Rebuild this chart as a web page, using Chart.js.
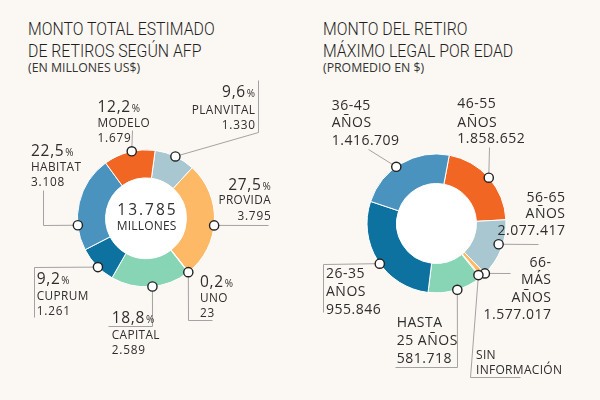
<!DOCTYPE html>
<html><head><meta charset="utf-8">
<script src="https://cdn.jsdelivr.net/npm/chart.js@4"></script>
<style>
html,body{margin:0;padding:0;background:#fbf7f2;}
#wrap{position:relative;width:600px;height:400px;overflow:hidden;background:#fbf7f2;}
canvas{position:absolute;left:0;top:0;}
.title{position:absolute;font-family:Roboto,sans-serif;font-weight:300;font-size:18px;line-height:21.5px;color:#1f1f1f;transform:scaleX(0.88);transform-origin:0 0;white-space:nowrap;top:18px;}
.sub{position:absolute;font-family:"Open Sans",sans-serif;font-size:12.3px;line-height:12px;color:#333;top:62px;white-space:nowrap;}
</style></head>
<body><div id="wrap">
<div class="title" style="left:28px">MONTO TOTAL ESTIMADO<br>DE RETIROS SEGÚN AFP</div>
<div class="sub" style="left:28px">(EN MILLONES US$)</div>
<div class="title" style="left:323px">MONTO DEL RETIRO<br>MÁXIMO LEGAL POR EDAD</div>
<div class="sub" style="left:323px">(PROMEDIO EN $)</div>
<canvas id="c1" width="600" height="400"></canvas>
<canvas id="c2" width="600" height="400"></canvas>
</div>
<script>
// ---------- DATA ----------
const afpNames   = ['PLANVITAL', 'PROVIDA', 'UNO', 'CAPITAL', 'CUPRUM', 'HABITAT', 'MODELO'];
const afpPercent = [9.6, 27.5, 0.2, 18.8, 9.2, 22.5, 12.2];
const afpAmount  = [1330, 3795, 23, 2589, 1261, 3108, 1679];

const ageGroups  = [['46-55', 'AÑOS'], ['56-65', 'AÑOS'], ['66-', 'MÁS', 'AÑOS'], ['SIN', 'INFORMACIÓN'],
                    ['HASTA', '25 AÑOS'], ['26-35', 'AÑOS'], ['36-45', 'AÑOS']];
const ageAverage = [1858652, 2077417, 1577017, null, 581718, 955846, 1416709];
const ageShare   = [21.2, 13.6, 1.1, 0.3, 12.8, 28.2, 22.8];   // slice sizes as drawn (%)

// ---------- STYLE / LAYOUT ----------
const afpColors = ['#a8c7d0', '#fdb966', '#f3d6a2', '#88d5b5', '#0e72a0', '#4b93bf', '#f26624'];
const ageColors = ['#f26624', '#a8c7d0', '#fdb966', '#fdb966', '#88d5b5', '#0e72a0', '#4b93bf'];
const TEXT = '#2e2e2e', LEAD = '#a3a3a3', FONT = '"Open Sans", sans-serif';

const afpLayout = [
  {frac: .51, align: 'right', x: 255,   y: [97, 114, 129],      path: [[258, 80], [258, 132], 'dot']},
  {frac: .54, align: 'right', x: 270.7, y: [190, 204, 220],     path: ['dot', [268, 'd']]},
  {frac: .5,  align: 'left',  x: 200,   y: [287, 302, 317],     path: ['dot', ['d', 320], [211.7, 320]]},
  {frac: .48, align: 'left',  x: 111.7, y: [323, 339, 354],     path: ['dot', ['d', 326], [108.3, 326]]},
  {frac: .45, align: 'left',  x: 36.7,  y: [284, 300, 315],     path: [[34.3, 316.7], [34.3, 'd'], 'dot']},
  {frac: .265,align: 'left',  x: 31,    y: [156, 170.7, 186],   path: [[43.3, 190], [43.3, 'd'], 'dot']},
  {frac: .55, align: 'left',  x: 97.5,  y: [111.7, 126.7, 141.7], path: [['d', 130], 'dot']}
];
const ageLayout = [
  {frac: .5,  align: 'left',  x: 457.3, y: [108, 126.7, 143],   path: [['d', 147], 'dot']},
  {frac: .44, rOff: -4, align: 'right', x: 565, y: [201.7, 218, 235], path: ['dot', [538, 'd']]},
  {frac: 0,   align: 'right', x: 551,   y: [267, 284.3, 301.7, 319.3], path: ['dot', [510, 'd']]},
  {frac: 1,   rOff: -3, small: true, align: 'left', x: 476, y: [359, 374], path: ['dot', [470, 377.3], [520, 377.3]]},
  {frac: .47, align: 'left',  x: 396.7, y: [327.3, 345, 362.7], path: ['dot', ['d', 366.7], [395, 366.7]]},
  {frac: .47, align: 'left',  x: 326,   y: [278.3, 296, 314],   path: ['dot', [322.7, 'd'], [322.7, 311.7]]},
  {frac: .44, align: 'left',  x: 331.7, y: [110, 126.7, 145],   path: [[368, 149], 'dot']}
];

// ---------- HELPERS ----------
const fmtInt = v => String(v).replace(/\B(?=(\d{3})+(?!\d))/g, '.');
const fmtPct = v => v.toFixed(1).replace('.', ',');

function textWidth(ctx, s, font, ls) {
  ctx.font = font; ctx.letterSpacing = '0px';
  return ctx.measureText(s).width + ls * (s.length - 1);
}
function drawRun(ctx, s, x, y, font, ls) {
  ctx.font = font; ctx.letterSpacing = ls + 'px';
  ctx.textAlign = 'left'; ctx.textBaseline = 'alphabetic';
  ctx.fillText(s, x, y);
  ctx.letterSpacing = '0px';
}
function drawLine(ctx, s, x, y, font, ls, align) {
  const w = textWidth(ctx, s, font, ls);
  const x0 = align === 'right' ? x - w : (align === 'center' ? x - w / 2 : x);
  drawRun(ctx, s, x0, y, font, ls);
}
function dotPos(chart, i, L) {
  const a = chart.getDatasetMeta(0).data[i];
  const p = a.getProps(['x', 'y', 'startAngle', 'endAngle', 'outerRadius'], true);
  const ang = p.startAngle + L.frac * (p.endAngle - p.startAngle);
  const r = p.outerRadius + (L.rOff || 0);
  return {x: p.x + r * Math.cos(ang), y: p.y + r * Math.sin(ang)};
}
function drawLeader(ctx, L, d) {
  ctx.save();
  ctx.strokeStyle = LEAD; ctx.lineWidth = 1;
  ctx.beginPath();
  L.path.forEach((pt, k) => {
    let x, y;
    if (pt === 'dot') { x = d.x; y = d.y; }
    else { x = pt[0] === 'd' ? d.x : pt[0]; y = pt[1] === 'd' ? d.y : pt[1]; }
    if (pt !== 'dot') { x = Math.round(x) + 0.5; y = Math.round(y) + 0.5; }
    k ? ctx.lineTo(x, y) : ctx.moveTo(x, y);
  });
  ctx.stroke();
  ctx.restore();
}
function drawDot(ctx, d) {
  ctx.save();
  ctx.beginPath(); ctx.arc(d.x, d.y, 4.6, 0, Math.PI * 2);
  ctx.fillStyle = '#ffffff'; ctx.fill();
  ctx.lineWidth = 1.4; ctx.strokeStyle = '#222222'; ctx.stroke();
  ctx.restore();
}
const holePlugin = {
  id: 'hole',
  beforeDatasetsDraw(chart) {
    const a = chart.getDatasetMeta(0).data[0];
    const ctx = chart.ctx;
    ctx.save(); ctx.beginPath();
    ctx.arc(a.x, a.y, a.innerRadius + 0.5, 0, Math.PI * 2);
    ctx.fillStyle = '#ffffff'; ctx.fill(); ctx.restore();
  }
};

// ---------- LEFT: AFP ----------
const afpPlugin = {
  id: 'afpLabels',
  afterDraw(chart) {
    const ctx = chart.ctx;
    ctx.save(); ctx.fillStyle = TEXT;
    const dots = afpLayout.map((L, i) => dotPos(chart, i, L));
    afpLayout.forEach((L, i) => drawLeader(ctx, L, dots[i]));
    afpLayout.forEach((L, i) => {
      ctx.fillStyle = TEXT;
      const pctFont = '15.5px ' + FONT, pctSmall = '10px ' + FONT;
      const ps = fmtPct(afpPercent[i]);
      const w1 = textWidth(ctx, ps, pctFont, 0.7) + 1.5;
      const w2 = textWidth(ctx, '%', pctSmall, 0);
      const x0 = L.align === 'right' ? L.x - w1 - w2 : L.x;
      drawRun(ctx, ps, x0, L.y[0], pctFont, 0.7);
      drawRun(ctx, '%', x0 + w1, L.y[0], pctSmall, 0);
      drawLine(ctx, afpNames[i], L.x, L.y[1], '11.8px ' + FONT, 0.4, L.align);
      drawLine(ctx, fmtInt(afpAmount[i]), L.x, L.y[2], '11.8px ' + FONT, 0.8, L.align);
    });
    dots.forEach(d => drawDot(ctx, d));
    const a = chart.getDatasetMeta(0).data[0];
    ctx.fillStyle = TEXT;
    const total = afpAmount.reduce((s, v) => s + v, 0);
    drawLine(ctx, fmtInt(total), a.x + 0.5, 214.5, '15.5px ' + FONT, 2, 'center');
    drawLine(ctx, 'MILLONES', a.x + 0.5, 230, '12px ' + FONT, 0.2, 'center');
    ctx.restore();
  }
};

new Chart(document.getElementById('c1'), {
  type: 'doughnut',
  data: {labels: afpNames, datasets: [{data: afpAmount, backgroundColor: afpColors,
         borderColor: '#ffffff', borderWidth: 1, hoverOffset: 0}]},
  options: {
    responsive: false, animation: false, events: [],
    rotation: 7.7, radius: 68.5, cutout: '59%',
    layout: {padding: {left: 0, right: 308, top: 36.6, bottom: 0}},
    plugins: {legend: {display: false}, tooltip: {enabled: false}}
  },
  plugins: [holePlugin, afpPlugin]
});

// ---------- RIGHT: EDAD ----------
const agePlugin = {
  id: 'ageLabels',
  afterDraw(chart) {
    const ctx = chart.ctx;
    ctx.save(); ctx.fillStyle = TEXT;
    const dots = ageLayout.map((L, i) => dotPos(chart, i, L));
    ageLayout.forEach((L, i) => drawLeader(ctx, L, dots[i]));
    ageLayout.forEach((L, i) => {
      const lines = ageGroups[i].slice();
      if (ageAverage[i] !== null) lines.push(fmtInt(ageAverage[i]));
      const font = (L.small ? '12px ' : '14px ') + FONT;
      const ls = L.small ? 0.3 : 0.5;
      ctx.fillStyle = TEXT;
      lines.forEach((s, k) => drawLine(ctx, s, L.x, L.y[k], font, ls, L.align));
    });
    dots.forEach(d => drawDot(ctx, d));
    ctx.restore();
  }
};

new Chart(document.getElementById('c2'), {
  type: 'doughnut',
  data: {labels: ageGroups.map(g => g.join(' ')), datasets: [{data: ageShare, backgroundColor: ageColors,
         borderColor: '#ffffff', borderWidth: 1, hoverOffset: 0}]},
  options: {
    responsive: false, animation: false, events: [],
    rotation: 10.6, radius: 69.5, cutout: '57.5%',
    layout: {padding: {left: 273, right: 0, top: 47, bottom: 0}},
    plugins: {legend: {display: false}, tooltip: {enabled: false}}
  },
  plugins: [holePlugin, agePlugin]
});
</script>
</body></html>
